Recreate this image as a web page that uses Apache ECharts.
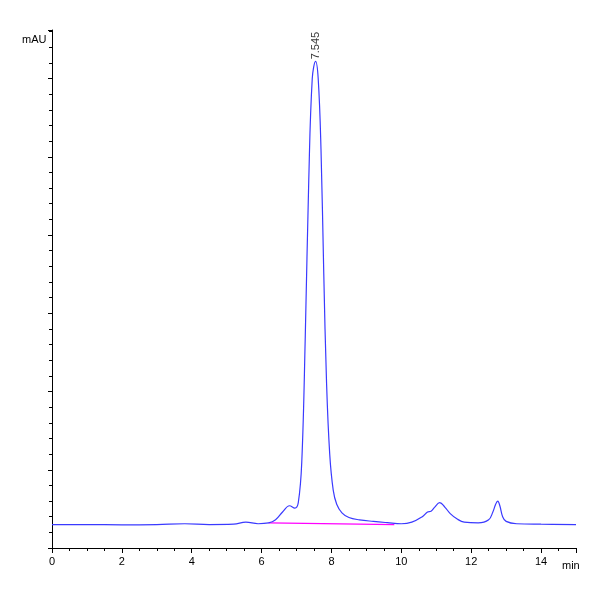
<!doctype html>
<html>
<head>
<meta charset="utf-8">
<script src="https://cdn.jsdelivr.net/npm/echarts@6/dist/echarts.min.js"></script>
<style>html,body{margin:0;background:#fff}#chart{width:600px;height:600px}</style>
</head>
<body>
<div id="chart"></div>
<script>
// retention time (min) and absorbance (mAU)
const times = [0,1,2,3,3.8,4.5,5.2,5.55,5.9,6.2,6.4,6.6,6.8,6.95,7.05,7.15,7.25,7.35,7.45,7.545,7.62,7.7,7.78,7.86,7.95,8.05,8.15,8.3,8.5,8.8,9.2,9.6,10.0,10.3,10.6,10.75,10.85,10.95,11.1,11.25,11.4,11.6,11.8,12.2,12.5,12.62,12.7,12.76,12.82,12.9,13.0,13.3,14,15];
const signal = [0,0,-0.02,0,0.05,0,0.02,0.15,0.05,0.1,0.3,0.8,1.2,1.05,1.4,4,12,22,28.5,29.6,28.5,24,16,9,4.5,2.2,1.3,0.75,0.45,0.3,0.2,0.12,0.05,0.15,0.5,0.8,0.85,1.1,1.4,1.1,0.7,0.35,0.15,0.1,0.3,0.8,1.3,1.5,1.2,0.5,0.2,0.05,0.02,0];
const baselineT = [6.2, 9.8];
const baselineV = [0.1, 0.0];
const peakT = 7.545, peakV = 29.6, peakLabel = '7.545';

const chart = echarts.init(document.getElementById('chart'));
const axisStyle = { lineStyle: { color: '#000', width: 1 } };
chart.setOption({
  animation: false,
  grid: { left: 52, right: 24, top: 30, bottom: 52 },
  xAxis: {
    type: 'value', min: 0, max: 15, interval: 2,
    axisLine: { onZero: false, ...axisStyle },
    axisTick: { show: true, length: 5, lineStyle: { color: '#000' } },
    minorTick: { show: true, splitNumber: 4, length: 3, lineStyle: { color: '#000' } },
    axisLabel: { color: '#000', fontFamily: 'Liberation Sans', fontSize: 11, showMaxLabel: false },
    splitLine: { show: false }
  },
  yAxis: {
    type: 'value', min: -1.5, max: 31.6, interval: 5,
    axisLine: { onZero: false, ...axisStyle },
    axisTick: { show: true, length: 4, lineStyle: { color: '#000' } },
    minorTick: { show: true, splitNumber: 5, length: 3, lineStyle: { color: '#000' } },
    axisLabel: { color: '#000', fontFamily: 'Liberation Sans', fontSize: 11,
      formatter: v => (Math.abs(v % 5) < 1e-6 && v >= 0) ? String(v) : '' },
    splitLine: { show: false }
  },
  graphic: [
    { type: 'text', left: 22, top: 34, style: { text: 'mAU', fontSize: 11, fontFamily: 'Liberation Sans', fill: '#000' } },
    { type: 'text', left: 562, top: 560, style: { text: 'min', fontSize: 11, fontFamily: 'Liberation Sans', fill: '#000' } }
  ],
  series: [
    { type: 'line', data: baselineT.map((t, i) => [t, baselineV[i]]), symbol: 'none',
      lineStyle: { color: '#ff00ff', width: 1.2 } },
    { type: 'line', data: times.map((t, i) => [t, signal[i]]), symbol: 'none', smooth: 0.4,
      lineStyle: { color: '#3a3aff', width: 1.2 } },
    { type: 'scatter', data: [[peakT, peakV]], symbolSize: 0,
      label: { show: true, formatter: peakLabel, position: 'top', rotate: 90, distance: 2,
        align: 'left', verticalAlign: 'middle', fontSize: 11, fontFamily: 'Liberation Sans', color: '#000' } }
  ]
});
</script>
</body>
</html>
